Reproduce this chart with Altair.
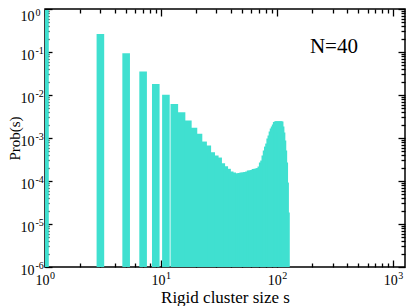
import altair as alt
import pandas as pd

# ---- data ----
sizes = list(range(1, 120, 2))
probs = [0.95, 0.262, 0.093, 0.035, 0.0181, 0.0102, 0.0062, 0.00396, 0.00254, 0.00172,
         0.00125, 0.000827, 0.000668, 0.000467, 0.000391, 0.000351, 0.000259, 0.000221,
         0.000192, 0.000166, 0.000157, 0.000149, 0.000142, 0.000149, 0.000153, 0.000157,
         0.000157, 0.000162, 0.000166, 0.000175, 0.000175, 0.00018, 0.00019, 0.000192,
         0.000195, 0.0002, 0.000217, 0.000269, 0.000299, 0.000391, 0.000511, 0.000632,
         0.000743, 0.00097, 0.00114, 0.00141, 0.00166, 0.00184, 0.00205, 0.00234, 0.00241,
         0.00245, 0.00241, 0.00184, 0.00134, 0.000873, 0.000511, 0.000269, 0.000092,
         0.0000185]

x_major = [1, 10, 100, 1000]
x_minor = [k * 10 ** e for e in range(0, 4) for k in range(2, 10) if k * 10 ** e <= 1250]
y_major = [1e-6, 1e-5, 1e-4, 1e-3, 1e-2, 1e-1, 1]
y_minor = [k * 10.0 ** e for e in range(-6, 0) for k in range(2, 10)]

ann_x = [308]
ann_y = [0.095]
ann_text = ["N=40"]

x_title = "Rigid cluster size s"
y_title = "Prob(s)"

# ---- styling ----
FONT = "Liberation Serif"
W, H = 360, 258
TOP = 1
DECADE_PX = 116.1
X_MAX = 10 ** (W / DECADE_PX)
TURQ = "#40E0D0"
MAJ, MIN = 7, 4
TW = 1.3

df = pd.DataFrame({"s": sizes, "p": probs})
ann = pd.DataFrame({"x": ann_x, "y": ann_y, "t": ann_text})

xs = alt.Scale(type="log", domain=[1, X_MAX], nice=False, padding=0)
ys = alt.Scale(type="log", domain=[1e-6, 1], nice=False, padding=0)

common = dict(domain=False, grid=False, tickColor="black", tickWidth=TW,
              labelFont=FONT, labelColor="black", labelFlush=False,
              labelOverlap=False, labelBound=False)

EXP = "'' + round(log(datum.value) / LN10)"
IS_TOP = "datum.value >= 0.5"

bars = alt.Chart(df).mark_rule(color=TURQ, strokeWidth=7.6, strokeCap="butt", clip=True).encode(
    x=alt.X("s:Q", scale=xs, axis=alt.Axis(
        orient="bottom", values=x_major, labelExpr="'10'", tickSize=MAJ, offset=-MAJ,
        labelFontSize=14, labelAlign="right", labelOffset=4, labelPadding=6,
        labelBaseline="top", title=x_title, titleFont=FONT, titleFontSize=17,
        titleFontWeight="normal", titleColor="black", titleBaseline="alphabetic",
        titleY=42, **common)),
    y=alt.Y("p:Q", scale=ys, axis=alt.Axis(
        orient="left", values=y_major, labelExpr="'10'", tickSize=MAJ, offset=-MAJ,
        labelFontSize=14, labelAlign="right", labelBaseline="middle",
        labelOffset=alt.condition(IS_TOP, alt.value(7), alt.value(3.5)),
        labelPadding=11, title=y_title, titleFont=FONT, titleFontSize=15,
        titleFontWeight="normal", titleColor="black", titleBaseline="alphabetic",
        titleAngle=270, titleX=-32.5, titleY=H / 2, **common)),
    y2=alt.value(H),
)

exps = alt.Chart(df).mark_point(opacity=0).encode(
    x=alt.X("s:Q", scale=xs, axis=alt.Axis(
        orient="bottom", values=x_major, labelExpr=EXP, ticks=False, tickSize=0,
        labelFontSize=10, labelAlign="left", labelOffset=4.5, labelPadding=3,
        labelBaseline="top", title=None, **common)),
    y=alt.Y("p:Q", scale=ys, axis=alt.Axis(
        orient="left", values=y_major, labelExpr=EXP, ticks=False, tickSize=0,
        labelFontSize=10, labelAlign="left", labelBaseline="middle",
        labelOffset=alt.condition(IS_TOP, alt.value(3), alt.value(-2)),
        labelPadding=10, title=None, **common)),
)

minor_bl = alt.Chart(df).mark_point(opacity=0).encode(
    x=alt.X("s:Q", scale=xs, axis=alt.Axis(
        orient="bottom", values=x_minor, labels=False, tickSize=MIN, offset=-MIN,
        title=None, **common)),
    y=alt.Y("p:Q", scale=ys, axis=alt.Axis(
        orient="left", values=y_minor, labels=False, tickSize=MIN, offset=-MIN,
        title=None, **common)),
)

major_tr = alt.Chart(df).mark_point(opacity=0).encode(
    x=alt.X("s:Q", scale=xs, axis=alt.Axis(
        orient="top", values=x_major, labels=False, tickSize=MAJ, offset=-MAJ,
        title=None, **common)),
    y=alt.Y("p:Q", scale=ys, axis=alt.Axis(
        orient="right", values=y_major, labels=False, tickSize=MAJ, offset=-MAJ,
        title=None, **common)),
)

minor_tr = alt.Chart(df).mark_point(opacity=0).encode(
    x=alt.X("s:Q", scale=xs, axis=alt.Axis(
        orient="top", values=x_minor, labels=False, tickSize=MIN, offset=-MIN,
        title=None, **common)),
    y=alt.Y("p:Q", scale=ys, axis=alt.Axis(
        orient="right", values=y_minor, labels=False, tickSize=MIN, offset=-MIN,
        title=None, **common)),
)

label = alt.Chart(ann).mark_text(font=FONT, fontSize=21, color="black",
                                 align="center", baseline="alphabetic").encode(
    x=alt.X("x:Q", scale=xs, axis=None),
    y=alt.Y("y:Q", scale=ys, axis=None),
    text="t:N",
)

chart = alt.layer(bars, exps, minor_bl, major_tr, minor_tr, label).resolve_axis(
    x="independent", y="independent"
).properties(
    width=W, height=H,
    autosize=alt.AutoSizeParams(type="none"),
    padding={"left": 37, "top": TOP, "right": 1, "bottom": 306 - 8 - TOP - H},
    background="white",
).configure_view(stroke="black", strokeWidth=1.5).configure_axis(
    labelFont=FONT, titleFont=FONT
).configure_text(font=FONT)

chart.save("out.html", embed_options={"renderer": "svg", "actions": False})
